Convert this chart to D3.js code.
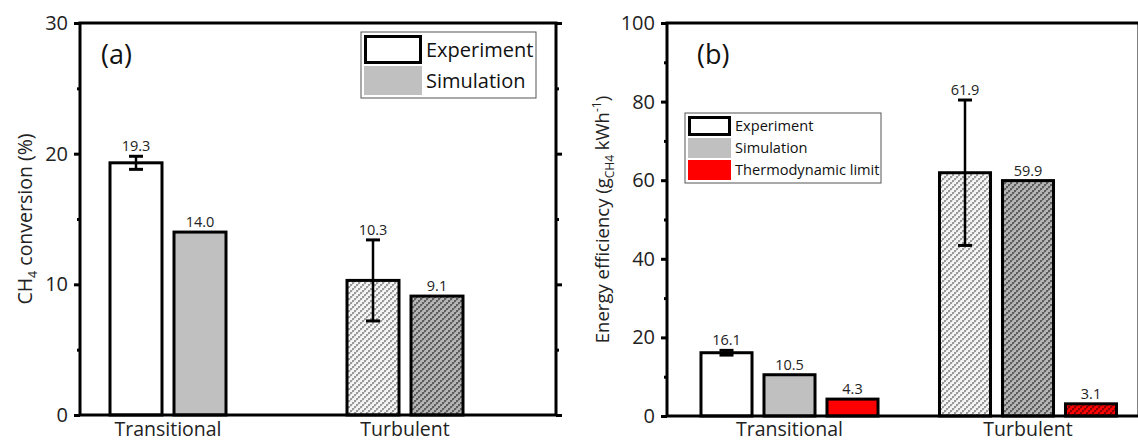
<html>
<head>
<style>
  body { margin: 0; background: #fff; }
  svg { font-family: "Open Sans", sans-serif; }
</style>
</head>
<body>
<div id="chart"></div>
<script src="https://d3js.org/d3.v7.min.js"></script>
<script>
const regimes = ['Transitional', 'Turbulent']

// panel (a): CH4 conversion (%)
const seriesA = ['Experiment', 'Simulation']
const convExp = [19.3, 10.3]
const convExpErr = [0.5, 3.1]
const convSim = [14.0, 9.1]
const ticksA = [0, 10, 20, 30]

// panel (b): energy efficiency (g CH4 / kWh)
const seriesB = ['Experiment', 'Simulation', 'Thermodynamic limit']
const effExp = [16.1, 61.9]
const effExpErr = [0.6, 18.5]
const effSim = [10.5, 59.9]
const effThermo = [4.3, 3.1]
const ticksB = [0, 20, 40, 60, 80, 100]

const svg = d3.select('#chart').append('svg')
  .attr('width', 1138).attr('height', 442)

// hatch patterns used for the turbulent bars
const defs = svg.append('defs')
function hatch(id, bg, fg, mid) {
  const p = defs.append('pattern').attr('id', id)
    .attr('width', 6).attr('height', 6).attr('patternUnits', 'userSpaceOnUse')
  p.append('rect').attr('width', 6).attr('height', 6).attr('fill', bg)
  ;[[0, 4], [2, 2], [4, 0]].forEach(([x, y]) => {
    p.append('rect').attr('x', x).attr('y', y).attr('width', 2).attr('height', 2).attr('fill', fg)
  })
  ;[[2, 4], [4, 2], [0, 0]].forEach(([x, y]) => {
    p.append('rect').attr('x', x).attr('y', y).attr('width', 1).attr('height', 1).attr('fill', mid)
  })
}
hatch('hLight', '#f4f4f4', '#9a9a9a', '#cfcfcf')
hatch('hGray', '#b4b4b4', '#5e5e5e', '#8a8a8a')
hatch('hRed', '#ff0000', '#8a0000', '#c00000')

function panel(opt) {
  const g = svg.append('g')
  const y = d3.scaleLinear().domain(opt.domain).range([opt.bottom, opt.top])
  const x = d3.scalePoint().domain(regimes).range(opt.groupRange)
  const inner = d3.scaleBand().domain(opt.series).range([-opt.innerHalf, opt.innerHalf])
    .paddingInner(opt.padIn).paddingOuter(opt.padIn / 2)

  // bars
  opt.series.forEach((s, si) => {
    const vals = opt.values[si]
    regimes.forEach((r, ri) => {
      const bx = x(r) + inner(s)
      const fill = ri === 0 ? opt.fills[si] : opt.hatches[si]
      g.append('rect')
        .attr('x', bx).attr('y', y(vals[ri]))
        .attr('width', inner.bandwidth()).attr('height', y(0) - y(vals[ri]))
        .attr('fill', fill).attr('stroke', '#000').attr('stroke-width', 3)
      let top = vals[ri]
      if (si === 0) {
        const e = opt.err[ri]
        const cx = bx + inner.bandwidth() / 2
        g.append('line').attr('x1', cx).attr('x2', cx)
          .attr('y1', y(vals[ri] + e)).attr('y2', y(vals[ri] - e))
          .attr('stroke', '#000').attr('stroke-width', 2.5)
        ;[vals[ri] + e, vals[ri] - e].forEach(v => {
          g.append('line').attr('x1', cx - 7).attr('x2', cx + 7)
            .attr('y1', y(v)).attr('y2', y(v))
            .attr('stroke', '#000').attr('stroke-width', 3)
        })
        top = vals[ri] + e
      }
      g.append('text')
        .attr('x', bx + inner.bandwidth() / 2).attr('y', y(top) - 5)
        .attr('text-anchor', 'middle').attr('font-size', 14.5).attr('fill', '#222')
        .text(vals[ri].toFixed(1))
    })
  })

  // frame
  g.append('rect').attr('x', opt.left).attr('y', opt.top)
    .attr('width', opt.right - opt.left).attr('height', opt.bottom - opt.top)
    .attr('fill', 'none').attr('stroke', '#000').attr('stroke-width', 3)

  // axes
  const minor = d3.range(opt.domain[0] + opt.step / 2, opt.domain[1], opt.step)
  const left = g.append('g').attr('transform', `translate(${opt.left},0)`)
    .call(d3.axisLeft(y).tickValues(opt.ticks).tickSize(6).tickPadding(6))
  left.select('.domain').remove()
  left.selectAll('.tick line').attr('stroke-width', 3)
  left.selectAll('.tick text').attr('font-size', 20).attr('font-family', '"Open Sans", sans-serif').attr('fill', '#222')
  const leftMinor = g.append('g').attr('transform', `translate(${opt.left},0)`)
    .call(d3.axisLeft(y).tickValues(minor).tickSize(3).tickFormat(''))
  leftMinor.select('.domain').remove()
  leftMinor.selectAll('.tick line').attr('stroke-width', 3)
  const right = g.append('g').attr('transform', `translate(${opt.right},0)`)
    .call(d3.axisRight(y).tickValues(opt.ticks).tickSize(6).tickFormat(''))
  right.select('.domain').remove()
  right.selectAll('.tick line').attr('stroke-width', 3)
  const rightMinor = g.append('g').attr('transform', `translate(${opt.right},0)`)
    .call(d3.axisRight(y).tickValues(minor).tickSize(3).tickFormat(''))
  rightMinor.select('.domain').remove()
  rightMinor.selectAll('.tick line').attr('stroke-width', 3)

  // category labels
  regimes.forEach(r => {
    g.append('text').attr('x', x(r)).attr('y', opt.catY)
      .attr('text-anchor', 'middle').attr('font-size', 19.5).attr('fill', '#222').text(r)
  })

  // panel letter
  g.append('text').attr('x', opt.letterX).attr('y', 64)
    .attr('font-size', 27).attr('fill', '#111').text(opt.letter)

  // y label
  const yl = g.append('text')
    .attr('transform', `translate(${opt.ylabelX},${(opt.top + opt.bottom) / 2}) rotate(-90)`)
    .attr('text-anchor', 'middle').attr('font-size', opt.ylabelSize).attr('fill', '#222')
  opt.ylabel(yl)

  // legend
  const L = opt.legend
  g.append('rect').attr('x', L.x).attr('y', L.y).attr('width', L.w).attr('height', L.rowH * opt.series.length + 4)
    .attr('fill', '#fff').attr('stroke', '#555').attr('stroke-width', 1)
  opt.series.forEach((s, si) => {
    const ry = L.y + 2 + si * L.rowH
    if (si === 0) {
      g.append('rect').attr('x', L.x + 4.5).attr('y', ry + 2.5)
        .attr('width', L.sw - 5).attr('height', L.rowH - 5)
        .attr('fill', '#fff').attr('stroke', '#000').attr('stroke-width', 3)
    } else {
      g.append('rect').attr('x', L.x + 3).attr('y', ry + 1)
        .attr('width', L.sw - 2).attr('height', L.rowH - 2).attr('fill', opt.fills[si])
    }
    g.append('text').attr('x', L.x + L.sw + 5).attr('y', ry + L.rowH / 2)
      .attr('dy', '0.36em').attr('font-size', L.fs).attr('fill', '#111').text(s)
  })
}

panel({
  left: 80, right: 556, top: 23, bottom: 415, catY: 436,
  domain: [0, 30], ticks: ticksA, step: 10,
  groupRange: [168, 405], innerHalf: 64, padIn: 0.1875,
  series: seriesA, values: [convExp, convSim], err: convExpErr,
  fills: ['#fff', '#c0c0c0'], hatches: ['url(#hLight)', 'url(#hGray)'],
  letter: '(a)', letterX: 101, ylabelX: 32, ylabelSize: 19.5,
  ylabel: t => {
    t.append('tspan').text('CH')
    t.append('tspan').attr('font-size', 12.5).attr('dy', 5).text('4')
    t.append('tspan').attr('dy', -5).text(' conversion (%)')
  },
  legend: { x: 361, y: 32, w: 175, rowH: 31, sw: 60, fs: 20 }
})

panel({
  left: 667, right: 1139, top: 23, bottom: 416, catY: 436,
  domain: [0, 100], ticks: ticksB, step: 20,
  groupRange: [789.5, 1028], innerHalf: 94.5, padIn: 0.19,
  series: seriesB, values: [effExp, effSim, effThermo], err: effExpErr,
  fills: ['#fff', '#c0c0c0', '#ff0000'], hatches: ['url(#hLight)', 'url(#hGray)', 'url(#hRed)'],
  letter: '(b)', letterX: 697, ylabelX: 609, ylabelSize: 18.5,
  ylabel: t => {
    t.append('tspan').text('Energy efficiency (g')
    t.append('tspan').attr('font-size', 12).attr('dy', 5).text('CH4')
    t.append('tspan').attr('dy', -5).text(' kWh')
    t.append('tspan').attr('font-size', 12).attr('dy', -8).text('-1')
    t.append('tspan').attr('dy', 8).text(')')
  },
  legend: { x: 685, y: 113, w: 196, rowH: 22, sw: 45, fs: 14.6 }
})
</script>
</body>
</html>
